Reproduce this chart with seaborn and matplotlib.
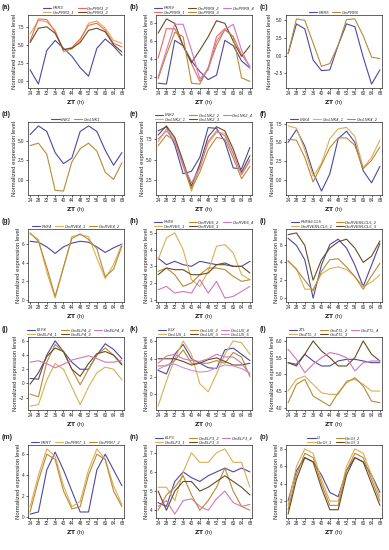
import matplotlib
matplotlib.use("Agg")
import matplotlib.pyplot as plt
from matplotlib.lines import Line2D
import pandas as pd
import seaborn as sns

# -------------------- DATA --------------------
ZT = [24, 28, 32, 36, 40, 44, 48, 52, 56, 60, 64, 68]

# (a)
PRR3 = [1.5, -0.5, 4.2, 5.6, 4.5, 3.4, 1.8, 0.6, 4.5, 5.8, 4.8, 3.5]
GmPRR3_1 = [6.5, 8.4, 8.2, 7.0, 4.0, 4.4, 5.6, 8.0, 8.3, 7.3, 5.6, 5.2]
GmPRR3_2 = [5.5, 8.6, 8.5, 6.8, 4.3, 4.6, 5.8, 7.7, 8.0, 7.0, 5.2, 4.7]
GmPRR3_3 = [5.3, 7.3, 7.5, 6.6, 4.3, 4.5, 5.3, 7.0, 7.3, 6.8, 5.0, 4.0]
# (b)
PRR9 = [1.3, 1.2, 6.1, 5.5, 3.8, 2.6, 1.7, 2.2, 6.1, 5.5, 3.8, 3.0]
GmPRR9_1 = [4.1, 7.4, 7.4, 5.5, 3.5, 1.5, 3.0, 6.5, 7.4, 6.5, 4.5, 3.2]
GmPRR9_2 = [6.9, 8.5, 8.0, 5.5, 3.6, 5.0, 6.5, 8.3, 8.0, 6.0, 4.3, 5.5]
GmPRR9_3 = [1.8, 4.5, 7.0, 6.5, 1.3, 1.2, 3.0, 5.5, 7.3, 6.5, 1.9, 1.5]
GmPRR9_4 = [2.0, 5.0, 7.9, 7.9, 5.0, 1.8, 2.8, 6.0, 7.3, 7.9, 5.0, 3.0]
# (c)
PRR5 = [0.3, 4.5, 3.8, -0.6, -2.1, -2.0, 1.5, 4.5, 4.1, -0.2, -4.0, -2.0]
GmPRR5 = [0.3, 5.2, 5.0, 1.8, -1.5, -1.1, 1.5, 5.1, 5.2, 2.8, -0.2, -0.4]
# (d)
LNK1 = [5.8, 6.9, 6.2, 3.5, 2.1, 2.8, 6.2, 6.9, 6.2, 3.8, 1.9, 3.5]
GmLNK1 = [4.4, 4.7, 3.3, -1.3, -1.4, 2.3, 4.0, 4.7, 3.7, 1.0, 0.1, 2.2]
# (e)
LNK2 = [8.5, 9.0, 6.8, 3.3, 3.6, 5.3, 8.9, 8.8, 7.2, 4.0, 3.9, 6.5]
GmLNK2_1 = [7.2, 8.7, 7.6, 4.5, 1.2, 4.2, 7.0, 8.3, 8.2, 5.8, 3.2, 4.8]
GmLNK2_2 = [6.7, 8.0, 7.3, 4.2, 1.5, 3.5, 6.2, 7.7, 7.5, 5.2, 2.7, 4.2]
GmLNK2_3 = [8.0, 9.1, 7.7, 4.8, 1.8, 4.5, 7.8, 9.0, 8.5, 6.3, 3.5, 5.5]
GmLNK2_4 = [7.5, 8.5, 7.3, 4.4, 2.2, 4.0, 7.2, 8.5, 7.9, 5.7, 3.2, 5.0]
# (f)
LNK4 = [5.0, 6.7, 4.5, 1.0, -1.5, 0.8, 5.5, 6.5, 5.0, 1.2, -0.4, 1.8]
GmLNK4_1 = [7.2, 6.9, 4.0, 0.5, 2.2, 5.5, 6.8, 7.0, 5.8, 1.6, 3.0, 5.3]
GmLNK4_2 = [5.4, 5.3, 3.0, -0.3, 2.0, 4.3, 5.6, 5.6, 4.6, 1.5, 2.6, 4.4]
# (g)
RVE4 = [6.3, 6.2, 5.7, 5.0, 5.7, 6.1, 6.3, 6.2, 5.7, 5.1, 5.6, 6.0]
GmRVE4_1 = [7.1, 6.5, 3.0, 0.2, 3.5, 6.8, 7.0, 6.8, 4.5, 2.3, 3.8, 6.0]
GmRVE4_2 = [7.2, 6.3, 3.5, 0.4, 3.5, 6.6, 7.1, 6.5, 5.5, 2.5, 3.3, 5.8]
# (h)
RVE6 = [3.5, 3.1, 3.3, 3.1, 3.0, 3.3, 3.2, 3.1, 3.2, 3.0, 3.0, 3.3]
GmRVE6_1 = [3.4, 4.7, 5.0, 4.0, 2.2, 1.8, 2.7, 4.2, 4.3, 3.8, 2.5, 2.2]
GmRVE6_2 = [2.7, 2.9, 2.5, 1.8, 2.0, 2.5, 2.9, 2.9, 2.8, 2.4, 2.1, 2.2]
GmRVE6_3 = [2.5, 2.9, 2.8, 2.8, 2.5, 2.5, 2.6, 3.1, 3.1, 3.0, 3.0, 2.6]
GmRVE6_4 = [1.6, 1.8, 1.4, 1.5, 1.4, 2.2, 1.4, 2.1, 1.1, 1.2, 1.5, 1.8]
# (i)
RVE8 = [6.7, 5.9, 4.3, 0.0, 3.7, 6.0, 6.6, 5.6, 3.7, 1.3, 3.7, 6.1]
GmRVE8_1 = [4.1, 3.3, 1.0, 1.0, 2.7, 3.3, 3.5, 3.2, 2.4, 1.3, 1.8, 2.6]
GmRVE8_2 = [4.2, 3.2, 2.0, 0.8, 3.0, 4.3, 4.4, 3.5, 2.4, 1.0, 2.5, 3.9]
GmRVE8_3 = [7.1, 7.3, 5.9, 2.0, 4.3, 5.6, 6.3, 6.6, 5.6, 4.0, 4.7, 6.4]
# (j)
ELF4 = [0.7, 0.6, 4.0, 6.0, 4.5, 3.0, 2.0, 2.0, 4.0, 5.6, 4.8, 3.5]
GmELF4_1 = [-3.2, -3.0, 0.5, 2.8, 2.0, -0.5, -3.0, -0.5, 1.5, 2.3, 2.0, 0.5]
GmELF4_2 = [-1.5, -1.9, 3.0, 5.5, 4.5, 2.0, -0.2, 2.0, 4.0, 5.0, 4.0, 2.8]
GmELF4_3 = [-0.1, 1.5, 3.8, 5.0, 4.5, 2.0, 1.0, 2.8, 4.2, 4.5, 4.0, 2.6]
GmELF4_4 = [3.0, 3.2, 2.8, 2.2, 2.7, 3.3, 3.6, 3.9, 3.5, 3.0, 3.0, 3.3]
# (k)
LUX = [2.7, 2.3, 4.5, 5.6, 4.0, 3.5, 3.0, 2.9, 5.0, 5.2, 4.5, 3.8]
GmLUX_1 = [-1.3, 1.5, 4.0, 6.0, 4.5, 1.2, 0.3, 2.3, 4.5, 6.0, 5.8, 4.5]
GmLUX_2 = [3.2, 3.2, 3.8, 5.0, 3.5, 3.5, 3.5, 3.8, 3.5, 4.7, 4.2, 2.0]
GmLUX_3 = [4.0, 4.0, 4.0, 3.7, 3.3, 3.5, 3.9, 4.1, 3.7, 3.3, 3.3, 3.5]
GmLUX_4 = [3.5, 4.3, 4.5, 4.0, 3.8, 3.7, 4.0, 4.5, 4.2, 4.2, 3.5, 2.2]
GmLUX_5 = [2.8, 3.3, 3.4, 3.0, 2.7, 2.5, 2.6, 3.0, 3.3, 3.2, 2.9, 2.4]
# (l)
ZTL = [5.35, 5.3, 5.6, 5.4, 5.25, 5.25, 5.4, 5.45, 5.45, 5.4, 5.35, 5.35]
GmZTL_1 = [4.5, 4.85, 4.95, 4.7, 4.45, 4.4, 4.4, 4.8, 4.85, 4.7, 4.5, 4.5]
GmZTL_2 = [4.15, 4.7, 4.85, 4.35, 4.2, 4.05, 4.45, 4.75, 4.9, 4.65, 4.2, 4.15]
GmZTL_3 = [5.35, 5.25, 5.6, 6.0, 5.7, 5.5, 5.25, 5.25, 5.5, 6.0, 5.6, 5.4]
GmZTL_4 = [5.75, 5.45, 5.05, 5.3, 5.5, 5.65, 5.6, 5.5, 5.1, 5.35, 5.4, 5.4]
# (m)
PRR7 = [0.3, 0.5, 4.5, 6.2, 4.5, 2.5, 0.5, 0.5, 4.5, 6.0, 4.5, 3.0]
GmPRR7_1 = [1.0, 4.0, 6.5, 5.8, 3.0, 1.0, 1.5, 4.5, 6.5, 5.5, 3.0, 1.2]
GmPRR7_2 = [0.5, 3.5, 6.0, 5.5, 2.5, 0.8, 1.0, 4.0, 6.0, 5.5, 2.5, 1.0]
# (n)
ELF3 = [4.4, 4.2, 5.5, 6.0, 5.7, 5.5, 5.8, 6.0, 6.2, 6.0, 6.2, 6.0]
GmELF3_1 = [5.2, 5.2, 4.5, 6.0, 7.0, 6.5, 6.5, 7.0, 7.2, 6.5, 6.5, 5.2]
GmELF3_2 = [4.0, 4.8, 5.2, 5.8, 4.8, 4.0, 4.5, 5.2, 6.2, 5.0, 4.2, 4.0]
GmELF3_3 = [5.0, 4.0, 5.0, 5.5, 5.5, 5.0, 5.2, 5.5, 5.8, 5.5, 5.2, 4.8]
GmELF3_4 = [4.2, 4.5, 3.8, 4.5, 4.6, 4.2, 4.0, 4.6, 5.0, 4.4, 4.2, 4.3]
# (o)
GI = [2.0, 5.5, 7.0, 6.5, 5.0, 3.0, 2.5, 5.5, 7.0, 6.5, 5.0, 3.0]
GmGI_1 = [1.5, 6.0, 8.0, 7.5, 4.5, 2.0, 2.0, 6.0, 8.0, 7.5, 5.0, 2.5]
GmGI_2 = [1.0, 5.0, 7.5, 7.0, 4.0, 1.5, 1.5, 5.5, 7.5, 7.0, 4.5, 2.0]
GmGI_3 = [0.5, 4.5, 7.0, 6.5, 3.5, 1.0, 1.0, 5.0, 7.0, 6.5, 4.0, 1.5]

# -------------------- STYLE --------------------
BLUE = "#4a4aa0"
GOLD = "#dcae55"
BRGOLD = "#b98a35"
DKBROWN = "#6b4a22"
RED = "#ee6a5a"
PINK = "#d277b8"
VIOLET = "#c88fd0"

# panel label, [(name, values, colour)], legend columns, yticks
PANELS = [
    ("(a)", [("PRR3", PRR3, BLUE), ("GmPRR3_1", GmPRR3_1, GOLD),
             ("GmPRR3_2", GmPRR3_2, RED), ("GmPRR3_3", GmPRR3_3, DKBROWN)], 2, [0, 2.5, 5, 7.5]),
    ("(b)", [("PRR9", PRR9, BLUE), ("GmPRR9_1", GmPRR9_1, RED), ("GmPRR9_2", GmPRR9_2, DKBROWN),
             ("GmPRR9_3", GmPRR9_3, BRGOLD), ("GmPRR9_4", GmPRR9_4, PINK)], 3, [2, 4, 6, 8]),
    ("(c)", [("PRR5", PRR5, BLUE), ("GmPRR5", GmPRR5, BRGOLD)], 2, [-2.5, 0, 2.5, 5]),
    ("(d)", [("LNK1", LNK1, BLUE), ("GmLNK1", GmLNK1, BRGOLD)], 2, [0, 2.5, 5]),
    ("(e)", [("LNK2", LNK2, BLUE), ("GmLNK2_1", GmLNK2_1, GOLD), ("GmLNK2_2", GmLNK2_2, BRGOLD),
             ("GmLNK2_3", GmLNK2_3, DKBROWN), ("GmLNK2_4", GmLNK2_4, PINK)], 3, [2.5, 5, 7.5]),
    ("(f)", [("LNK4", LNK4, BLUE), ("GmLNK4_1", GmLNK4_1, GOLD),
             ("GmLNK4_2", GmLNK4_2, BRGOLD)], 3, [0, 2.5, 5, 7.5]),
    ("(g)", [("RVE4", RVE4, BLUE), ("GmRVE4_1", GmRVE4_1, GOLD),
             ("GmRVE4_2", GmRVE4_2, BRGOLD)], 3, [0, 2, 4, 6]),
    ("(h)", [("RVE6", RVE6, BLUE), ("GmRVE6_1", GmRVE6_1, GOLD), ("GmRVE6_2", GmRVE6_2, BRGOLD),
             ("GmRVE6_3", GmRVE6_3, DKBROWN), ("GmRVE6_4", GmRVE6_4, PINK)], 3, [1, 2, 3, 4, 5]),
    ("(i)", [("RVE8/LCL5", RVE8, BLUE), ("GmRVE8/LCL5_1", GmRVE8_1, GOLD),
             ("GmRVE8/LCL5_2", GmRVE8_2, BRGOLD), ("GmRVE8/LCL5_3", GmRVE8_3, DKBROWN)], 2, [0, 2, 4, 6]),
    ("(j)", [("ELF4", ELF4, BLUE), ("GmELF4_1", GmELF4_1, GOLD), ("GmELF4_2", GmELF4_2, BRGOLD),
             ("GmELF4_3", GmELF4_3, DKBROWN), ("GmELF4_4", GmELF4_4, PINK)], 3, [-2, 0, 2, 4, 6]),
    ("(k)", [("LUX", LUX, BLUE), ("GmLUX_1", GmLUX_1, GOLD), ("GmLUX_2", GmLUX_2, BRGOLD),
             ("GmLUX_3", GmLUX_3, DKBROWN), ("GmLUX_4", GmLUX_4, PINK),
             ("GmLUX_5", GmLUX_5, VIOLET)], 3, [0, 2, 4, 6]),
    ("(l)", [("ZTL", ZTL, BLUE), ("GmZTL_1", GmZTL_1, GOLD), ("GmZTL_2", GmZTL_2, BRGOLD),
             ("GmZTL_3", GmZTL_3, DKBROWN), ("GmZTL_4", GmZTL_4, PINK)], 3, [4.0, 4.5, 5.0, 5.5, 6.0]),
    ("(m)", [("PRR7", PRR7, BLUE), ("GmPRR7_1", GmPRR7_1, GOLD),
             ("GmPRR7_2", GmPRR7_2, BRGOLD)], 3, [0, 2, 4, 6]),
    ("(n)", [("ELF3", ELF3, BLUE), ("GmELF3_1", GmELF3_1, GOLD), ("GmELF3_2", GmELF3_2, BRGOLD),
             ("GmELF3_3", GmELF3_3, DKBROWN), ("GmELF3_4", GmELF3_4, PINK)], 3, [4, 5, 6, 7]),
    ("(o)", [("Gi", GI, BLUE), ("GmGI_1", GmGI_1, GOLD), ("GmGI_2", GmGI_2, BRGOLD),
             ("GmGI_3", GmGI_3, DKBROWN)], 2, [0, 2, 4, 6, 8]),
]

sns.set_style("ticks")
plt.rcParams['font.family'] = ['Liberation Sans', 'DejaVu Sans']
plt.rcParams['axes.linewidth'] = 0.5

fig = plt.figure(figsize=(3.89, 5.5), dpi=100)

COL_LEFT = [28, 156, 286]
ROW_TOP = [15, 122, 229, 337, 445]
AX_W, AX_H = 96, 73
W, H = 389, 550

for i, (label, series, ncol, yticks) in enumerate(PANELS):
    r, c = divmod(i, 3)
    ax = fig.add_axes([COL_LEFT[c] / W, 1 - (ROW_TOP[r] + AX_H) / H, AX_W / W, AX_H / H])
    rows = []
    for name, vals, col in series:
        for x, v in zip(ZT, vals):
            rows.append({"ZT": x, "value": v, "gene": name})
    df = pd.DataFrame(rows)
    pal = {name: col for name, _, col in series}
    sns.lineplot(data=df, x="ZT", y="value", hue="gene", palette=pal, ax=ax,
                 linewidth=0.8, legend=False)
    for sp in ax.spines.values():
        sp.set_visible(True)
        sp.set_linewidth(0.5)
    ax.set_xticks(ZT)
    ax.set_yticks(yticks)
    ax.tick_params(labelsize=3.3, length=1.5, width=0.5, pad=1)
    ax.set_xlim(23, 69)
    ax.set_xlabel(r"$\bf{ZT}$ (h)", fontsize=4.3, labelpad=1)
    ax.set_ylabel("Normalized expression level", fontsize=4.3, labelpad=1)
    ax.margins(y=0.06)

    handles = [Line2D([], [], color=col, lw=0.8) for _, _, col in series]
    names = [name for name, _, _ in series]
    ax.legend(handles, names, ncol=ncol, frameon=False,
              loc="lower center", bbox_to_anchor=(0.5, 0.98), handlelength=2.0,
              columnspacing=0.8, labelspacing=0.1, borderaxespad=0, handletextpad=0.4,
              prop={"style": "italic", "size": 2.9})
    fig.text((COL_LEFT[c] - 26) / W, 1 - (ROW_TOP[r] - 11) / H, label,
             fontsize=5, fontweight="bold", va="top", ha="left")

fig.savefig("out.png", dpi=100)
